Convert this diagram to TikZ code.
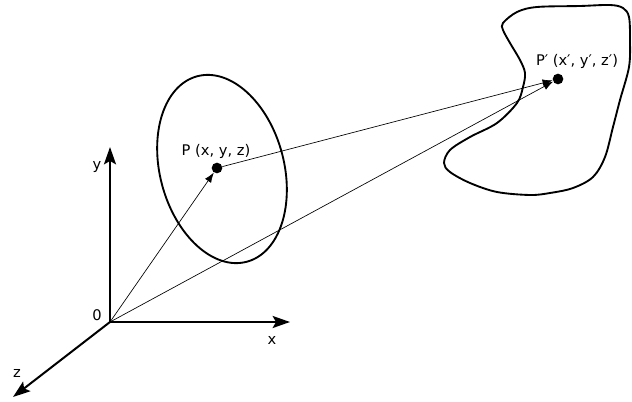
\documentclass[tikz,border=0pt]{standalone}
\usepackage{fontspec}
\setmainfont{DejaVu Sans}
\usetikzlibrary{arrows.meta, positioning}

\begin{document}
\begin{tikzpicture}[x=0.75pt, y=0.75pt,
    axis/.style={line width=1.5pt, -{Stealth[length=13pt, width=9pt, inset=2.5pt]}},
    ray/.style={line width=0.5pt, -{Latex[length=7.5pt, width=5.5pt]}},
    outline/.style={line width=1.4pt},
    dot/.style={circle, fill=black, inner sep=0pt, minimum size=8pt},
    lbl/.style={font=\fontsize{11}{13}\selectfont, inner sep=1pt}]
  \useasboundingbox (0,0) rectangle (632,401);

  % Axes
  \coordinate (O) at (110,79);
  \coordinate (xtip) at (290,79);
  \coordinate (ytip) at (110,254);
  \coordinate (ztip) at (13,4);
  \draw[axis] (O) -- (xtip);
  \draw[axis] (O) -- (ytip);
  \draw[axis] (O) -- (ztip);
  \node[lbl] (olabel) at (97,86) {0};
  \node[lbl] (xlabel) at (272,61) {x};
  \node[lbl] (ylabel) at (97,234) {y};
  \node[lbl] (zlabel) at (17,28) {z};

  % Object surface
  \draw[outline, rotate around={15:(222,232)}] (222,232) ellipse [x radius=62, y radius=96];
  % Image surface
  \draw[outline] plot[smooth cycle, tension=0.55] coordinates {
    (503,378) (517,389) (537,394) (580,395) (610,396) (623,393)
    (629,384) (630,361) (629,334) (620,301) (613,274) (605,244)
    (593,224) (573,213) (550,208) (530,206) (497,209) (470,218)
    (450,229) (444,238) (450,251) (470,264) (497,278) (517,298)
    (523,314) (525,328) (520,341) (510,358) (503,371)};

  % Points
  \node[dot] (P) at (217,233) {};
  \node[dot] (Pp) at (558,322) {};
  \node[lbl] (plabel) at (216,250) {P (x, y, z)};
  \node[lbl] (pplabel) at (577,340) {P′ (x′, y′, z′)};

  % Rays
  \draw[ray] (O) -- (P);
  \draw[ray] (P) -- (Pp);
  \draw[ray] (O) -- (Pp);
\end{tikzpicture}
\end{document}
